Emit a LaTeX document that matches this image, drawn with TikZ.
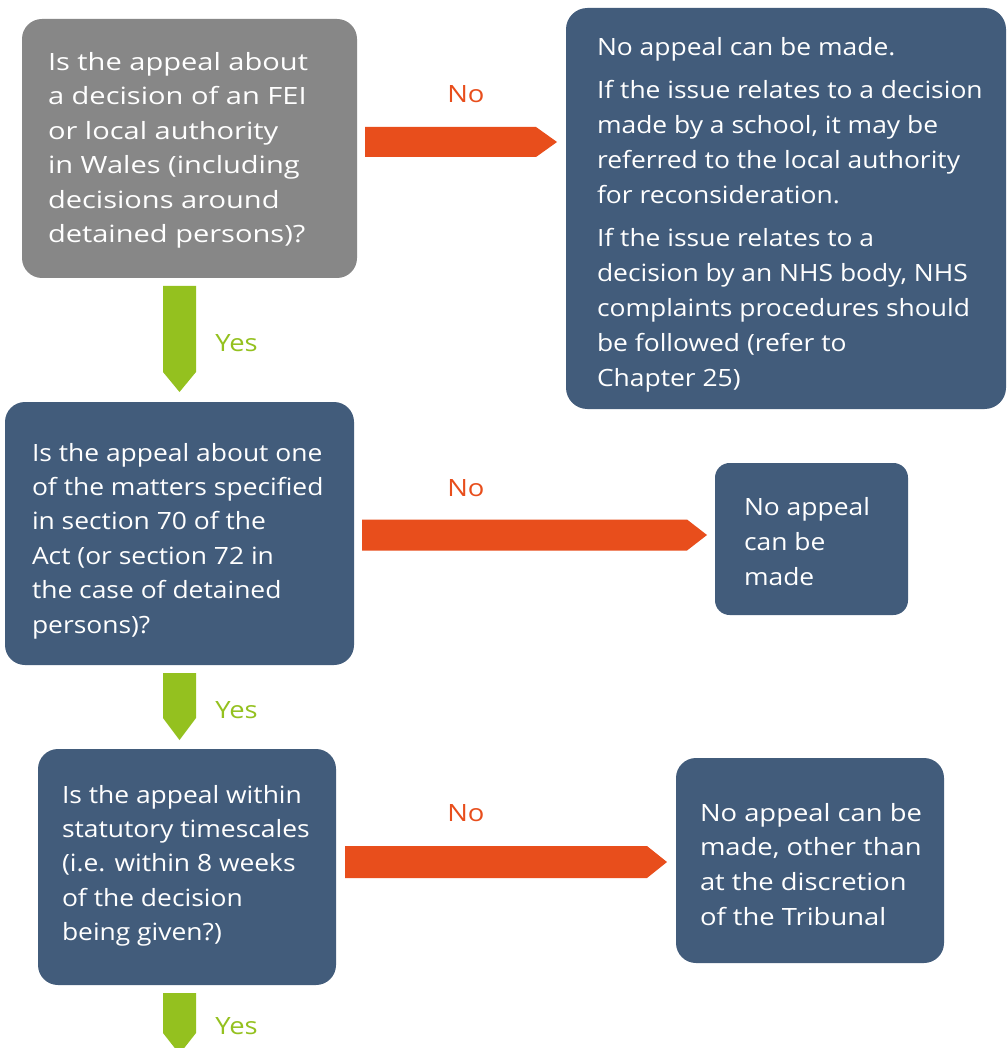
\documentclass[tikz,border=0pt]{standalone}
\usepackage{fontspec}
\setmainfont{Open Sans}
\newfontfamily\fA[FakeStretch=1.22]{Open Sans}
\newfontfamily\fB[FakeStretch=1.11]{Open Sans}
\newfontfamily\fC[FakeStretch=1.15]{Open Sans}
\usetikzlibrary{calc}
\definecolor{boxblue}{HTML}{425C7B}
\definecolor{boxgrey}{HTML}{878787}
\definecolor{noorange}{HTML}{E84E1C}
\definecolor{yesgreen}{HTML}{94C11F}
\tikzset{
  box/.style={rectangle, rounded corners=15pt, inner sep=0pt, outer sep=0pt, draw=none},
  boxtext/.style={anchor=north west, inner sep=0pt, outer sep=0pt, align=left, text=white},
  nolabel/.style={anchor=base west, inner sep=0pt, text=noorange, font=\fC\fontsize{17.85pt}{25.8pt}\selectfont},
  yeslabel/.style={anchor=base west, inner sep=0pt, text=yesgreen, font=\fC\fontsize{17.85pt}{25.8pt}\selectfont},
}
\begin{document}
\begin{tikzpicture}[x=0.75pt, y=-0.75pt]
\useasboundingbox (0,0) rectangle (1007,1048);
\fill[white] (0,0) rectangle (1007,1048);
\begin{scope}
\clip (0,0) rectangle (1007,1048);

% boxes
\node[box, fill=boxgrey, minimum width=251.25pt, minimum height=194.25pt] (q1) at (189.5,148.5) {};
\node[box, fill=boxblue, minimum width=330pt, minimum height=300.75pt, rounded corners=16pt] (r1) at (786,208.5) {};
\node[box, fill=boxblue, minimum width=261.75pt, minimum height=197.25pt] (q2) at (179.5,533.5) {};
\node[box, fill=boxblue, minimum width=144.75pt, minimum height=114pt, rounded corners=11pt] (r2) at (811.5,539) {};
\node[box, fill=boxblue, minimum width=223.5pt, minimum height=177pt] (q3) at (187,867) {};
\node[box, fill=boxblue, minimum width=201pt, minimum height=153.75pt] (r3) at (810,860.5) {};

% texts
\node[boxtext, font=\fA\fontsize{17.85pt}{25.9pt}\selectfont] (t1) at (48,52)
  {Is the appeal about\\a decision of an FEI\\or local authority\\in Wales (including\\decisions around\\detained persons)?};
\node[boxtext, font=\fB\fontsize{17.85pt}{26.3pt}\selectfont] (t2) at (597,37)
  {No appeal can be made.\\[6pt]If the issue relates to a decision\\made by a school, it may be\\referred to the local authority\\for reconsideration.\\[6pt]If the issue relates to a\\decision by an NHS body, NHS\\complaints procedures should\\be followed (refer to\\Chapter 25)};
\node[boxtext, font=\fB\fontsize{17.85pt}{25.8pt}\selectfont] (t3) at (32,443)
  {Is the appeal about one\\of the matters specified\\in section 70 of the\\Act (or section 72 in\\the case of detained\\persons)?};
\node[boxtext, font=\fB\fontsize{17.85pt}{26.3pt}\selectfont] (t4) at (744,497)
  {No appeal\\can be\\made};
\node[boxtext, font=\fB\fontsize{17.85pt}{25.8pt}\selectfont] (t5) at (62,785)
  {Is the appeal within\\statutory timescales\\(i.e. within 8 weeks\\of the decision\\being given?)};
\node[boxtext, font=\fC\fontsize{17.85pt}{26.1pt}\selectfont] (t6) at (700,803)
  {No appeal can be\\made, other than\\at the discretion\\of the Tribunal};

% orange "No" arrows
\coordinate (o1s) at (365,142); \coordinate (o1e) at (557,142);
\fill[noorange] ($(o1s)+(0,-15)$) -- ($(o1e)+(-21,-15)$) -- (o1e) -- ($(o1e)+(-21,15)$) -- ($(o1s)+(0,15)$) -- cycle;
\coordinate (o2s) at (362,535); \coordinate (o2e) at (707,535);
\fill[noorange] ($(o2s)+(0,-15.5)$) -- ($(o2e)+(-20,-15.5)$) -- (o2e) -- ($(o2e)+(-20,15.5)$) -- ($(o2s)+(0,15.5)$) -- cycle;
\coordinate (o3s) at (345,862); \coordinate (o3e) at (667,862);
\fill[noorange] ($(o3s)+(0,-16)$) -- ($(o3e)+(-20,-16)$) -- (o3e) -- ($(o3e)+(-20,16)$) -- ($(o3s)+(0,16)$) -- cycle;

% green "Yes" arrows
\coordinate (g1s) at (179.5,286); \coordinate (g1e) at (179.5,392);
\fill[yesgreen] ($(g1s)+(-16.5,0)$) -- ($(g1e)+(-16.5,-20)$) -- (g1e) -- ($(g1e)+(16.5,-20)$) -- ($(g1s)+(16.5,0)$) -- cycle;
\coordinate (g2s) at (179.5,673); \coordinate (g2e) at (179.5,740);
\fill[yesgreen] ($(g2s)+(-16.5,0)$) -- ($(g2e)+(-16.5,-22)$) -- (g2e) -- ($(g2e)+(16.5,-22)$) -- ($(g2s)+(16.5,0)$) -- cycle;
\coordinate (g3s) at (179.5,993); \coordinate (g3e) at (179.5,1054);
\fill[yesgreen] ($(g3s)+(-16.5,0)$) -- ($(g3e)+(-16.5,-21)$) -- (g3e) -- ($(g3e)+(16.5,-21)$) -- ($(g3s)+(16.5,0)$) -- cycle;

% labels
\node[nolabel] (n1) at (447,103) {No};
\node[nolabel] (n2) at (447,496.5) {No};
\node[nolabel] (n3) at (447,821) {No};
\node[yeslabel] (y1) at (215,351) {Yes};
\node[yeslabel] (y2) at (215,718) {Yes};
\node[yeslabel] (y3) at (215,1034) {Yes};
\end{scope}
\end{tikzpicture}
\end{document}
